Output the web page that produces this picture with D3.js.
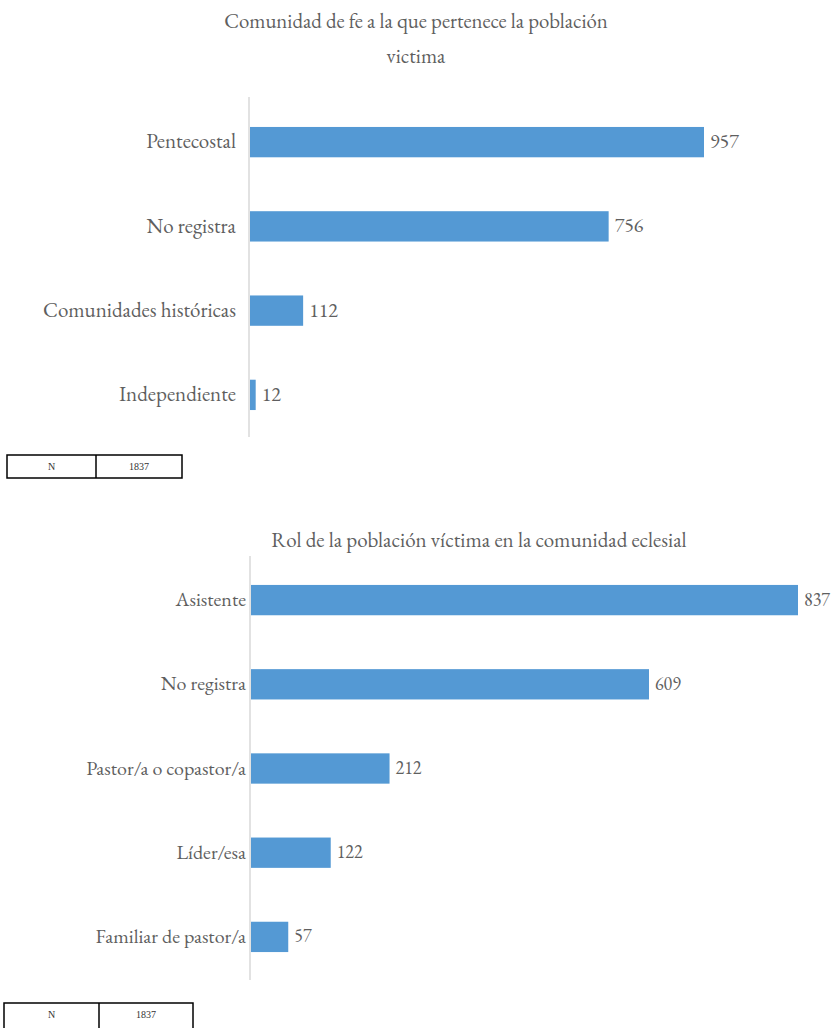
<!DOCTYPE html>
<html>
<head>
<meta charset="utf-8">
<script src="https://cdn.jsdelivr.net/npm/d3@7"></script>
<style>
  html, body { margin: 0; padding: 0; background: #fff; }
  svg { display: block; }
</style>
</head>
<body>
<svg id="chart" width="831" height="1028"></svg>
<script>
// Comunidad de fe
const faithCategories = ["Pentecostal", "No registra", "Comunidades históricas", "Independiente"];
const faithValues = [957, 756, 112, 12];

// Rol en la comunidad eclesial
const roleCategories = ["Asistente", "No registra", "Pastor/a o copastor/a", "Líder/esa", "Familiar de pastor/a"];
const roleValues = [837, 609, 212, 122, 57];

const totalLabel = "N";
const totalValue = 1837;

const svg = d3.select("#chart");
const serif = "'EB Garamond', 'Liberation Serif', serif";
const textColor = "#5f5f5f";
const barColor = "#5499d4";
const axisColor = "#d9d9d9";

function drawBars(cfg) {
  const g = svg.append("g");
  const y = d3.scaleBand()
    .domain(cfg.categories)
    .range([cfg.top, cfg.bottom])
    .paddingInner(cfg.pad)
    .paddingOuter(cfg.pad / 2);
  const x = d3.scaleLinear()
    .domain([0, cfg.max])
    .range([cfg.left, cfg.right]);

  const data = cfg.categories.map((c, i) => ({ c, v: cfg.values[i] }));

  g.selectAll("rect.bar").data(data).enter().append("rect")
    .attr("class", "bar")
    .attr("x", x(0))
    .attr("y", d => y(d.c))
    .attr("width", d => x(d.v) - x(0))
    .attr("height", y.bandwidth())
    .attr("fill", barColor);

  // category axis, labels only
  const axis = d3.axisLeft(y).tickSize(0).tickPadding(cfg.labelPad);
  const ag = g.append("g").attr("transform", `translate(${x(0) - 1},0)`).call(axis);
  ag.select(".domain").remove();
  ag.selectAll("text")
    .attr("dy", "0.3em")
    .style("font-family", serif)
    .style("font-size", cfg.labelSize + "px")
    .attr("fill", textColor);

  g.append("line")
    .attr("x1", x(0) - 1).attr("x2", x(0) - 1)
    .attr("y1", cfg.axisTop).attr("y2", cfg.axisBottom)
    .attr("stroke", axisColor).attr("stroke-width", 1.5);

  g.selectAll("text.val").data(data).enter().append("text")
    .attr("class", "val")
    .attr("x", d => x(d.v) + 6)
    .attr("y", d => y(d.c) + y.bandwidth() / 2)
    .attr("dy", "0.3em")
    .style("font-family", serif)
    .style("font-size", cfg.valueSize + "px")
    .attr("fill", textColor)
    .text(d => d.v);

  cfg.title.forEach((t, i) => {
    g.append("text")
      .attr("x", cfg.titleX)
      .attr("y", cfg.titleY + i * 35)
      .attr("text-anchor", "middle")
      .style("font-family", serif)
      .style("font-size", cfg.titleSize + "px")
      .attr("fill", textColor)
      .text(t);
  });
}

function drawTable(x0, x1, xm, y0, h, ty) {
  const g = svg.append("g");
  g.append("rect").attr("x", x0).attr("y", y0).attr("width", x1 - x0).attr("height", h)
    .attr("fill", "none").attr("stroke", "#000").attr("stroke-width", 1.5);
  g.append("line").attr("x1", xm).attr("x2", xm).attr("y1", y0).attr("y2", y0 + h)
    .attr("stroke", "#000").attr("stroke-width", 1.5);
  [[totalLabel, (x0 + xm) / 2], [totalValue, (xm + x1) / 2]].forEach(([t, cx]) => {
    g.append("text").attr("x", cx).attr("y", y0 + ty)
      .attr("text-anchor", "middle")
      .style("font-family", "'Liberation Serif', serif")
      .style("font-size", "10px").attr("fill", "#333").text(t);
  });
}

drawBars({
  categories: faithCategories, values: faithValues, max: 957,
  left: 250, right: 704, top: 100, bottom: 437, pad: 0.64,
  axisTop: 97, axisBottom: 437, labelPad: 13,
  labelSize: 21, valueSize: 20,
  title: ["Comunidad de fe a la que pertenece la población", "victima"],
  titleX: 416, titleY: 28, titleSize: 20.8
});
drawTable(7, 182, 96, 455, 23, 15);

drawBars({
  categories: roleCategories, values: roleValues, max: 837,
  left: 251, right: 798, top: 558, bottom: 979, pad: 0.64,
  axisTop: 556, axisBottom: 980, labelPad: 4,
  labelSize: 20, valueSize: 18,
  title: ["Rol de la población víctima en la comunidad eclesial"],
  titleX: 479, titleY: 547, titleSize: 21
});
drawTable(4, 193, 99, 1003, 30, 15);
</script>
</body>
</html>
